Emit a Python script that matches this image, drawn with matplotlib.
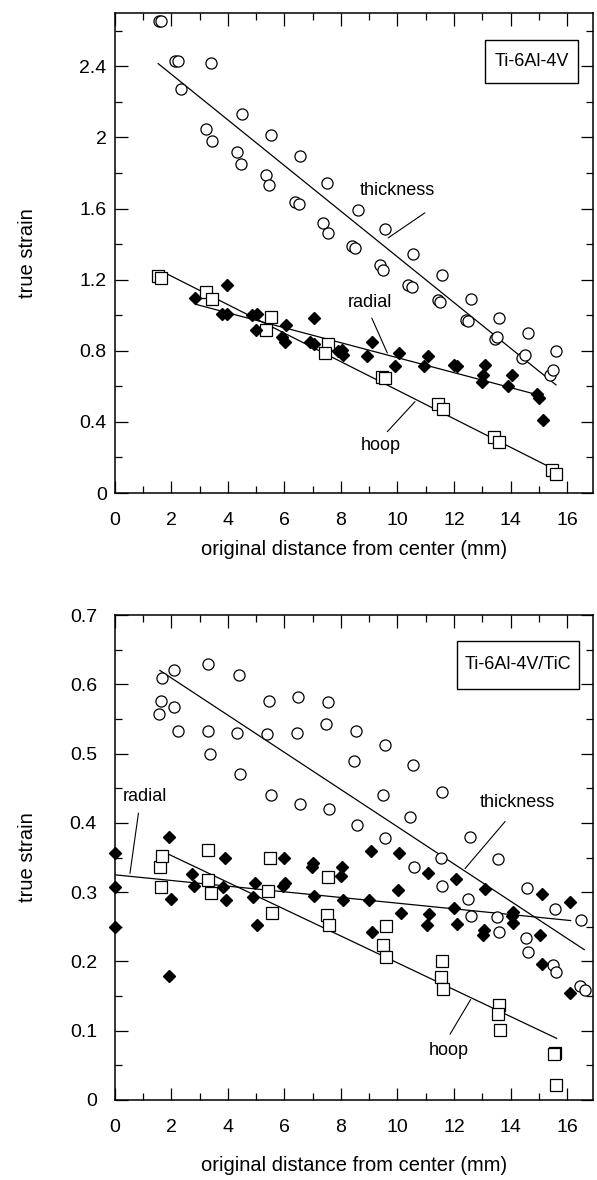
import matplotlib
matplotlib.use('Agg')
import matplotlib.pyplot as plt
from matplotlib.patches import Rectangle
from matplotlib.ticker import MultipleLocator, FixedLocator, FixedFormatter

plt.rcParams['font.family'] = ['Liberation Sans', 'DejaVu Sans']

# ---- top panel: Ti-6Al-4V ----
top_thick_x = [1.55, 1.62, 2.12, 2.23, 2.32, 3.40, 3.21, 3.42, 4.51, 4.31, 4.46, 5.52, 5.33, 5.46,
               6.54, 6.38, 6.50, 7.52, 7.37, 7.53, 8.59, 8.38, 8.50, 9.56, 9.38, 9.50, 10.56, 10.38,
               10.52, 11.56, 11.44, 11.50, 12.60, 12.41, 12.51, 13.59, 13.45, 13.53, 14.61, 14.40,
               14.52, 15.60, 15.40, 15.52]
top_thick_y = [2.655, 2.655, 2.43, 2.43, 2.27, 2.42, 2.05, 1.98, 2.13, 1.92, 1.85, 2.015, 1.79, 1.73,
               1.895, 1.635, 1.626, 1.745, 1.52, 1.46, 1.594, 1.388, 1.378, 1.486, 1.285, 1.256, 1.346,
               1.172, 1.159, 1.228, 1.087, 1.072, 1.091, 0.975, 0.965, 0.984, 0.866, 0.88, 0.90, 0.759,
               0.777, 0.80, 0.665, 0.693]
top_radial_x = [2.83, 3.98, 3.78, 3.95, 4.84, 5.04, 4.99, 6.05, 5.90, 6.02, 7.04, 6.90, 7.04, 7.90,
                8.02, 8.08, 9.09, 8.91, 10.07, 9.91, 11.09, 10.94, 12.00, 12.09, 13.10, 13.04, 12.98,
                14.06, 13.92, 14.93, 15.02, 15.14]
top_radial_y = [1.097, 1.172, 1.008, 1.008, 1.003, 1.008, 0.918, 0.946, 0.88, 0.852, 0.984, 0.852,
                0.839, 0.796, 0.806, 0.777, 0.852, 0.77, 0.787, 0.716, 0.768, 0.712, 0.721, 0.712,
                0.721, 0.665, 0.627, 0.665, 0.603, 0.558, 0.533, 0.411]
top_hoop_x = [1.53, 1.62, 3.21, 3.42, 5.52, 5.33, 7.53, 7.45, 9.44, 9.56, 11.45, 11.60, 13.43, 13.60,
              15.46, 15.61]
top_hoop_y = [1.222, 1.21, 1.131, 1.091, 0.99, 0.918, 0.839, 0.79, 0.655, 0.646, 0.50, 0.473, 0.317,
              0.286, 0.13, 0.105]
top_thick_fit_x, top_thick_fit_y = [1.53, 15.61], [2.415, 0.608]
top_radial_fit_x, top_radial_fit_y = [2.89, 14.97], [1.06, 0.552]
top_hoop_fit_x, top_hoop_fit_y = [1.77, 15.5], [1.238, 0.137]

# ---- bottom panel: Ti-6Al-4V/TiC ----
bot_thick_x = [1.65, 2.10, 1.63, 2.09, 1.56, 2.24, 3.30, 3.28, 3.37, 4.39, 4.33, 4.44, 5.46, 5.39,
               5.51, 6.49, 6.43, 6.55, 7.53, 7.47, 7.56, 8.53, 8.46, 8.55, 9.56, 9.47, 9.56, 10.56,
               10.44, 10.59, 11.56, 11.53, 11.58, 12.57, 12.51, 12.59, 13.57, 13.51, 13.60, 14.60,
               14.54, 14.61, 15.58, 15.52, 15.61, 16.50, 16.46, 16.64]
bot_thick_y = [0.609, 0.620, 0.576, 0.567, 0.557, 0.533, 0.630, 0.532, 0.500, 0.614, 0.529, 0.471,
               0.576, 0.528, 0.440, 0.582, 0.530, 0.427, 0.575, 0.543, 0.420, 0.533, 0.490, 0.397,
               0.513, 0.440, 0.378, 0.484, 0.408, 0.337, 0.444, 0.349, 0.309, 0.380, 0.290, 0.265,
               0.348, 0.264, 0.242, 0.306, 0.234, 0.213, 0.275, 0.195, 0.185, 0.260, 0.164, 0.159]
bot_radial_x = [0, 0, 0, 1.91, 1.97, 1.91, 2.74, 2.81, 3.89, 3.83, 3.93, 4.96, 4.90, 5.02, 5.98, 6.02,
                5.94, 7.00, 6.96, 8.02, 7.99, 7.06, 8.08, 9.05, 10.07, 8.99, 9.09, 10.01, 10.11, 11.07,
                11.13, 11.03, 12.07, 12.00, 12.12, 13.10, 13.06, 13.01, 14.10, 14.06, 14.10, 15.10,
                15.04, 15.10, 16.10, 16.12]
bot_radial_y = [0.357, 0.307, 0.249, 0.380, 0.290, 0.179, 0.326, 0.309, 0.349, 0.307, 0.288, 0.313,
                0.293, 0.253, 0.350, 0.313, 0.309, 0.342, 0.337, 0.337, 0.323, 0.294, 0.289, 0.359,
                0.357, 0.289, 0.243, 0.303, 0.270, 0.327, 0.268, 0.252, 0.319, 0.277, 0.254, 0.304,
                0.246, 0.238, 0.272, 0.265, 0.255, 0.298, 0.238, 0.196, 0.286, 0.154]
bot_hoop_x = [1.59, 1.68, 1.63, 3.30, 3.30, 3.39, 5.49, 5.43, 5.55, 7.55, 7.49, 7.58, 9.58, 9.50,
              9.59, 11.59, 11.54, 11.60, 13.60, 13.57, 13.63, 15.59, 15.54, 15.61]
bot_hoop_y = [0.337, 0.352, 0.307, 0.361, 0.318, 0.299, 0.349, 0.301, 0.270, 0.322, 0.267, 0.253,
              0.251, 0.224, 0.206, 0.200, 0.178, 0.160, 0.137, 0.124, 0.101, 0.068, 0.066, 0.022]
bot_thick_fit_x, bot_thick_fit_y = [1.59, 16.61], [0.620, 0.217]
bot_radial_fit_x, bot_radial_fit_y = [0, 16.13], [0.325, 0.259]
bot_hoop_fit_x, bot_hoop_fit_y = [1.83, 15.63], [0.356, 0.089]

x_ticks = [0, 2, 4, 6, 8, 10, 12, 14, 16]
top_yticks = [0, 0.4, 0.8, 1.2, 1.6, 2.0, 2.4]
top_yticklabels = ['0', '0.4', '0.8', '1.2', '1.6', '2', '2.4']
bot_yticks = [0, 0.1, 0.2, 0.3, 0.4, 0.5, 0.6, 0.7]
bot_yticklabels = ['0', '0.1', '0.2', '0.3', '0.4', '0.5', '0.6', '0.7']

fig = plt.figure(figsize=(5.97, 11.8), dpi=100)
ax1 = fig.add_axes([0.1926, 0.5822, 0.8007, 0.4068])
ax2 = fig.add_axes([0.1926, 0.0678, 0.8007, 0.4110])


def draw_panel(ax, thick, radial, hoop, fits):
    for fx, fy in fits:
        ax.plot(fx, fy, color='black', lw=0.9, zorder=2)
    ax.plot(thick[0], thick[1], 'o', ms=8, mfc='white', mec='black', mew=0.9,
            ls='none', zorder=3, clip_on=False)
    ax.plot(radial[0], radial[1], 'D', ms=5.8, mfc='black', mec='black',
            ls='none', zorder=4, clip_on=False)
    ax.plot(hoop[0], hoop[1], 's', ms=8.5, mfc='white', mec='black', mew=0.9,
            ls='none', zorder=3, clip_on=False)
    ax.set_xlim(0, 16.92)
    ax.xaxis.set_major_locator(FixedLocator(x_ticks))
    ax.xaxis.set_minor_locator(MultipleLocator(1))
    ax.tick_params(which='both', direction='in', top=True, right=True, width=0.9)
    ax.tick_params(which='major', length=9, labelsize=14)
    ax.tick_params(which='minor', length=5)
    ax.tick_params(axis='x', pad=14)
    for s in ax.spines.values():
        s.set_linewidth(1.1)
    ax.set_xlabel('original distance from center (mm)', fontsize=14.5)
    ax.set_ylabel('true strain', fontsize=14.5)
    ax.yaxis.set_label_coords(-0.163, 0.5)


def leader(ax, p0, p1):
    ax.annotate('', xy=p1, xytext=p0,
                arrowprops=dict(arrowstyle='-', lw=0.8, color='black', shrinkA=0, shrinkB=0))


# top
draw_panel(ax1, (top_thick_x, top_thick_y), (top_radial_x, top_radial_y), (top_hoop_x, top_hoop_y),
           [(top_thick_fit_x, top_thick_fit_y), (top_radial_fit_x, top_radial_fit_y),
            (top_hoop_fit_x, top_hoop_fit_y)])
ax1.set_ylim(0, 2.7)
ax1.yaxis.set_major_locator(FixedLocator(top_yticks))
ax1.yaxis.set_major_formatter(FixedFormatter(top_yticklabels))
ax1.yaxis.set_minor_locator(MultipleLocator(0.2))
ax1.tick_params(axis='y', pad=6)
ax1.xaxis.set_label_coords(0.5, -0.098)
ax1.text(10.0, 1.70, 'thickness', fontsize=13, ha='center', va='center')
leader(ax1, (10.97, 1.576), (9.67, 1.435))
ax1.text(9.03, 1.07, 'radial', fontsize=13, ha='center', va='center')
leader(ax1, (9.09, 0.984), (9.64, 0.787))
ax1.text(9.42, 0.27, 'hoop', fontsize=13, ha='center', va='center')
leader(ax1, (9.64, 0.345), (10.62, 0.514))
ax1.add_patch(Rectangle((0.774, 0.854), 0.195, 0.09, transform=ax1.transAxes,
                        fill=False, lw=1.0, ec='black'))
ax1.text(0.8715, 0.899, 'Ti-6Al-4V', transform=ax1.transAxes, fontsize=13,
         ha='center', va='center')

# bottom
draw_panel(ax2, (bot_thick_x, bot_thick_y), (bot_radial_x, bot_radial_y), (bot_hoop_x, bot_hoop_y),
           [(bot_thick_fit_x, bot_thick_fit_y), (bot_radial_fit_x, bot_radial_fit_y),
            (bot_hoop_fit_x, bot_hoop_fit_y)])
ax2.set_ylim(0, 0.7)
ax2.yaxis.set_major_locator(FixedLocator(bot_yticks))
ax2.yaxis.set_major_formatter(FixedFormatter(bot_yticklabels))
ax2.yaxis.set_minor_locator(MultipleLocator(0.05))
ax2.tick_params(axis='y', pad=13)
ax2.xaxis.set_label_coords(0.5, -0.115)
ax2.text(1.06, 0.438, 'radial', fontsize=13, ha='center', va='center')
leader(ax2, (0.83, 0.414), (0.53, 0.327))
ax2.text(14.25, 0.429, 'thickness', fontsize=13, ha='center', va='center')
leader(ax2, (13.81, 0.402), (12.39, 0.334))
ax2.text(11.83, 0.071, 'hoop', fontsize=13, ha='center', va='center')
leader(ax2, (11.86, 0.095), (12.59, 0.145))
ax2.add_patch(Rectangle((0.715, 0.847), 0.256, 0.100, transform=ax2.transAxes,
                        fill=False, lw=1.0, ec='black'))
ax2.text(0.843, 0.897, 'Ti-6Al-4V/TiC', transform=ax2.transAxes, fontsize=13,
         ha='center', va='center')

fig.savefig('out.png', dpi=100)
